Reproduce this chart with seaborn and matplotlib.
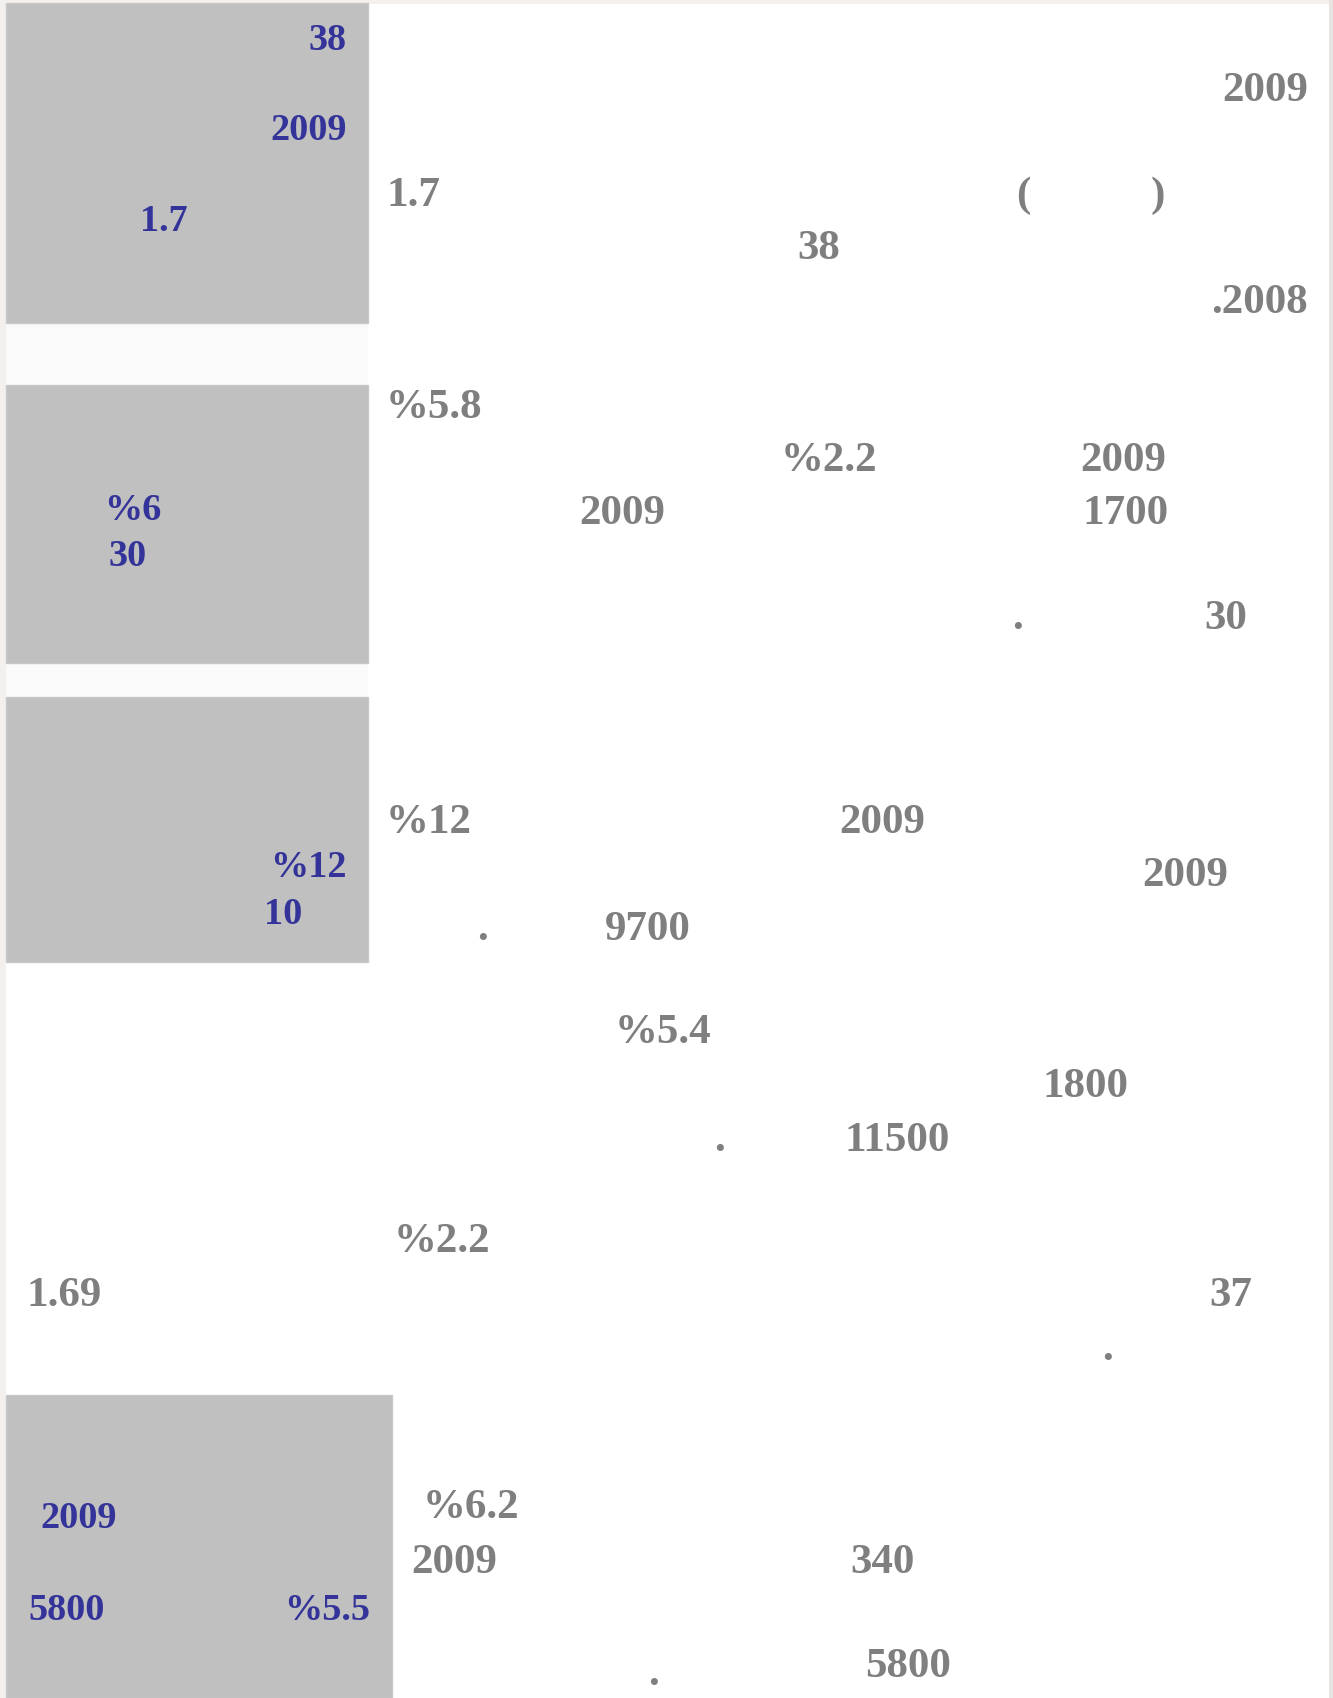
"""
Page of numbers only: grey side boxes with blue figures, body figures in grey.
Canvas is laid out in pixel units (1333 x 1698) on one full-figure axes.
"""

import matplotlib
matplotlib.use("Agg")
import matplotlib.pyplot as plt
from matplotlib.patches import Rectangle
import seaborn as sns

# ---------------------------------------------------------------------------
# DATA
# ---------------------------------------------------------------------------
# grey side boxes: left, top, right, bottom (page pixels)
box_left = [6, 6, 6, 6]
box_top = [3, 385, 697, 1395]
box_right = [368, 368, 368, 392]
box_bottom = [323, 663, 962, 1698]

# blue figures inside the boxes
blue_labels = ["38", "2009", "1.7", "%6", "30", "%12", "10", "2009", "5800", "%5.5"]
blue_x = [347, 347, 140, 104, 108, 347, 264, 40, 28, 370]
blue_y = [36, 126, 217, 506, 553, 863, 910, 1515, 1607, 1607]
blue_ha = ["right", "right", "left", "left", "left", "right", "left", "left", "left", "right"]

# grey figures in the body text
grey_labels = ["2009", "1.7", "(", ")", "38", ".2008",
               "%5.8", "%2.2", "2009", "2009", "1700", ".", "30",
               "%12", "2009", "2009", ".", "9700",
               "%5.4", "1800", ".", "11500",
               "%2.2", "1.69", "37", ".",
               "%6.2", "2009", "340", ".", "5800"]
grey_x = [1308, 386, 1016, 1151, 797, 1308,
          386, 781, 1080, 579, 1082, 1012, 1204,
          386, 839, 1142, 477, 605,
          615, 1042, 714, 844,
          394, 26, 1209, 1102,
          423, 411, 850, 648, 865]
grey_y = [87, 192, 192, 192, 245, 299,
          404, 457, 457, 510, 510, 615, 615,
          819, 819, 872, 926, 926,
          1029, 1083, 1137, 1137,
          1238, 1292, 1292, 1346,
          1504, 1559, 1559, 1671, 1663]
grey_ha = ["right", "left", "left", "left", "left", "right",
           "left", "left", "left", "left", "left", "left", "left",
           "left", "left", "left", "left", "left",
           "left", "left", "left", "left",
           "left", "left", "left", "left",
           "left", "left", "left", "left", "left"]

W, H = 1333, 1698
DY = 4  # baseline nudge, text sits a little low in the source


def main():
    sns.set_theme(style="white")
    plt.rcParams["font.family"] = ["Liberation Serif", "DejaVu Serif"]

    fig = plt.figure(figsize=(W / 100, H / 100), dpi=100, facecolor="#f3f0ee")
    ax = fig.add_axes([0, 0, 1, 1])
    ax.set_xlim(0, W)
    ax.set_ylim(H, 0)
    ax.axis("off")

    # page area
    ax.add_patch(Rectangle((6, 4), 1323, H, facecolor="white", edgecolor="none"))
    ax.add_patch(Rectangle((6, 323), 362, 374, facecolor="#fafafa", edgecolor="none"))
    # thin right edge strip
    ax.add_patch(Rectangle((1329, 0), 4, H, facecolor="#e6e3e1", edgecolor="none"))

    for l, t, r, b in zip(box_left, box_top, box_right, box_bottom):
        ax.add_patch(Rectangle((l, t), r - l, b - t, facecolor="#c0c0c0",
                               edgecolor="#c8c8c8", linewidth=1))

    for s, x, y, ha in zip(blue_labels, blue_x, blue_y, blue_ha):
        ax.text(x, y + DY, s, ha=ha, va="center", color="#333399",
                fontsize=27.5, fontweight="bold")

    for s, x, y, ha in zip(grey_labels, grey_x, grey_y, grey_ha):
        ax.text(x, y + DY, s, ha=ha, va="center", color="#7f7f7f",
                fontsize=31, fontweight="bold")

    fig.savefig("out.png", dpi=100, facecolor=fig.get_facecolor())
    plt.close(fig)


if __name__ == "__main__":
    main()
